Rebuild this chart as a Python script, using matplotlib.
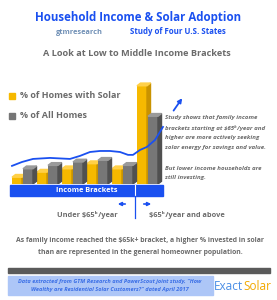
import matplotlib
matplotlib.use('Agg')
import matplotlib.pyplot as plt
from matplotlib.patches import Rectangle, Polygon

plt.rcParams['font.family'] = ['Open Sans', 'DejaVu Sans']

# data (% of homes per income bracket)
brackets = ['b1', 'b2', 'b3', 'b4', 'b5', 'b6']
solar = [4, 7, 9, 12, 9, 58]
all_homes = [9, 11, 13, 14, 11, 40]
# hand-drawn trend curve
trend_x = [0.08, 0.48, 0.92, 1.6, 2.4, 2.8, 3.2, 3.6, 4.0, 4.4, 4.72, 4.92, 5.2, 5.48, 5.8, 6.12]
trend_y = [10.7, 13.0, 14.8, 15.4, 14.8, 16.6, 18.9, 19.5, 19.5, 18.9, 17.2, 17.2, 20.1, 21.9, 26.0, 33.7]

BLUE = '#1a50f0'
GRAY_TXT = '#6b6b6b'
W, H = 277, 300

fig = plt.figure(figsize=(2.77, 3.0), dpi=100)
fig.patch.set_facecolor('white')

# overlay axes in pixel coordinates for the infographic text
ov = fig.add_axes([0, 0, 1, 1])
ov.set_xlim(0, W)
ov.set_ylim(H, 0)
ov.axis('off')

ov.text(138, 17, 'Household Income & Solar Adoption', color=BLUE, fontsize=8.3, fontweight='bold',
        ha='center', va='center')
ov.text(79, 32, 'gtmresearch', color='#6f8fb5', fontsize=5.3, fontweight='bold', ha='center', va='center')
ov.text(178, 32, 'Study of Four U.S. States', color=BLUE, fontsize=5.7, fontweight='bold',
        ha='center', va='center')
ov.text(137, 53, 'A Look at Low to Middle Income Brackets', color=GRAY_TXT, fontsize=6.6,
        fontweight='bold', ha='center', va='center')

# legend
ov.add_patch(Rectangle((9, 93), 6, 6, color='#f6b900'))
ov.add_patch(Rectangle((9, 113), 6, 6, color='#767676'))
ov.text(20, 96, '% of Homes with Solar', color=GRAY_TXT, fontsize=6.5, fontweight='bold', va='center')
ov.text(20, 116, '% of All Homes', color=GRAY_TXT, fontsize=6.5, fontweight='bold', va='center')

para = ['Study shows that family income', 'brackets starting at $65ᵏ/year and',
        'higher are more actively seeking', 'solar energy for savings and value.']
for i, s in enumerate(para):
    ov.text(165, 118 + i * 10, s, color=GRAY_TXT, fontsize=4.45, fontweight='bold',
            style='italic', va='center')
for i, s in enumerate(['But lower income households are', 'still investing.']):
    ov.text(165, 168 + i * 10, s, color=GRAY_TXT, fontsize=4.45, fontweight='bold',
            style='italic', va='center')

# income brackets band
ov.add_patch(Rectangle((10, 185), 153, 11, color=BLUE))
ov.plot([135, 135], [185, 196], color='white', lw=0.8)
ov.text(87, 190.5, 'Income Brackets', color='white', fontsize=5.3, fontweight='bold',
        ha='center', va='center')
ov.plot([135, 135], [196, 218], color=BLUE, lw=0.9)
ov.annotate('', xy=(115, 204), xytext=(128, 204),
            arrowprops=dict(arrowstyle='-|>', color=BLUE, lw=1.2, mutation_scale=5))
ov.annotate('', xy=(154, 204), xytext=(141, 204),
            arrowprops=dict(arrowstyle='-|>', color=BLUE, lw=1.2, mutation_scale=5))
ov.text(87, 215, 'Under $65ᵏ/year', color=GRAY_TXT, fontsize=5.3, fontweight='bold',
        ha='center', va='center')
ov.text(187, 215, '$65ᵏ/year and above', color=GRAY_TXT, fontsize=5.3, fontweight='bold',
        ha='center', va='center')

ov.text(140, 241, 'As family income reached the $65k+ bracket, a higher % invested in solar',
        color=GRAY_TXT, fontsize=4.95, fontweight='bold', ha='center', va='center')
ov.text(140, 253, 'than are represented in the general homeowner population.',
        color=GRAY_TXT, fontsize=4.95, fontweight='bold', ha='center', va='center')

# footer
ov.add_patch(Rectangle((8, 268), 262, 5, color='#5a5a5a'))
ov.add_patch(Rectangle((8, 276), 205, 19, color='#adc6f7'))
ov.text(110, 282, 'Data extracted from GTM Research and PowerScout joint study, "How',
        color='#3b6fe6', fontsize=4.1, fontweight='bold', style='italic', ha='center', va='center')
ov.text(110, 290, 'Wealthy are Residential Solar Customers?" dated April 2017',
        color='#3b6fe6', fontsize=4.1, fontweight='bold', style='italic', ha='center', va='center')
ov.text(243, 287, 'Exact', color='#4a8ee6', fontsize=8.5, ha='right', va='center')
ov.text(243, 287, 'Solar', color='#f2a900', fontsize=8.5, ha='left', va='center')

# bar chart axes
ax = fig.add_axes([10 / W, 1 - 184 / H, 153 / W, 105 / H])
ax.set_xlim(0, 6.12)
ax.set_ylim(0, 62)
ax.axis('off')
ax.patch.set_alpha(0)

bw = 0.4
dx, dy = 0.14, 1.6
xs = list(range(len(brackets)))
faces = [('#f6b900', '#c99300', '#ffd048'), ('#777777', '#505050', '#9a9a9a')]
for off, vals, (front, side, top) in [(0.08, solar, faces[0]), (0.52, all_homes, faces[1])]:
    lefts = [x + off for x in xs]
    ax.bar(lefts, vals, width=bw, align='edge', color=front, zorder=2)
    for l, v in zip(lefts, vals):
        ax.add_patch(Polygon([(l + bw, 0), (l + bw + dx, dy), (l + bw + dx, v + dy), (l + bw, v)],
                             color=side, zorder=2))
        ax.add_patch(Polygon([(l, v), (l + dx, v + dy), (l + bw + dx, v + dy), (l + bw, v)],
                             color=top, zorder=2))

ax.plot(trend_x, trend_y, color=BLUE, lw=1.3, zorder=3, clip_on=False)
ax.annotate('', xy=(6.95, 52), xytext=(6.48, 42), annotation_clip=False,
            arrowprops=dict(arrowstyle='-|>', color=BLUE, lw=1.3, mutation_scale=6))

fig.savefig('out.png', dpi=100)
